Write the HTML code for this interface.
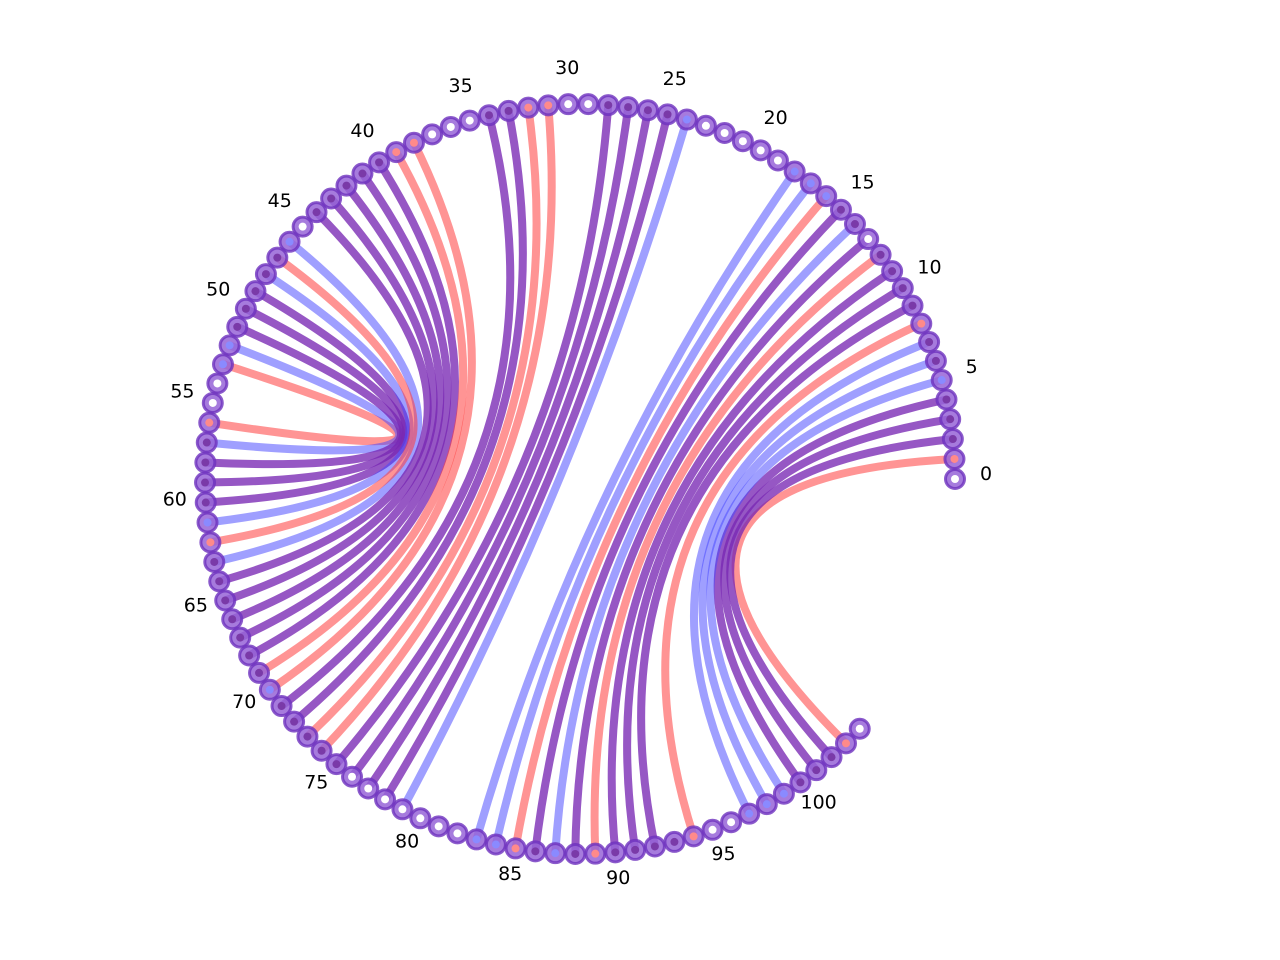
<!DOCTYPE html>
<html><head><meta charset="utf-8"><style>
html,body{margin:0;padding:0;background:#fff;}
svg{display:block;}
text{font-family:"DejaVu Sans","Liberation Sans",sans-serif;font-size:19px;fill:#000;}
</style></head><body>
<svg id="chart" width="1280" height="960" viewBox="0 0 1280 960" xmlns="http://www.w3.org/2000/svg">
<g id="edges"></g>
<g id="nodes"></g>
<g id="labels"></g>
</svg>
<script>
const nodeCount = 105;
const edgeSources = [1,2,3,4,5,6,7,8,9,10,11,12,13,14,15,16,17,18, 46,44,43,42,41,40,39,38,34,33,32,31,28,27,26,25,24, 53,52,51,50,49,48,47];
const edgeTargets = [103,102,101,100,99,98,97,94,92,91,90,89,88,87,86,85,84,83, 63,64,65,66,67,68,69,70,71,72,73,74,75,76,77,78,79, 56,57,58,59,60,61,62];
const edgeKinds = ['r','p','p','p','b','b','b','r','p','p','p','r','p','b','p','r','b','b', 'b','p','p','p','p','p','r','r','p','p','r','r','p','p','p','p','b', 'r','b','p','p','p','b','r'];
const nodeKinds = {1:'r',2:'p',3:'p',4:'p',5:'b',6:'p',7:'p',8:'r',9:'p',10:'p',11:'p',12:'p',14:'p',15:'p',16:'b',17:'b',18:'b',24:'b',25:'p',26:'p',27:'p',28:'p',31:'r',32:'r',33:'p',34:'p',38:'r',39:'r',40:'p',41:'p',42:'p',43:'p',44:'p',46:'b',47:'p',48:'p',49:'p',50:'p',51:'p',52:'b',53:'b',56:'r',57:'p',58:'p',59:'p',60:'p',61:'b',62:'r',63:'p',64:'p',65:'p',66:'p',67:'p',68:'p',69:'p',70:'b',71:'p',72:'p',73:'p',74:'p',75:'p',83:'b',84:'b',85:'r',86:'p',87:'b',88:'p',89:'r',90:'p',91:'p',92:'p',93:'p',94:'r',97:'b',98:'b',99:'b',100:'p',101:'p',102:'p',103:'r'};
const tickLabels = [0,5,10,15,20,25,30,35,40,45,50,55,60,65,70,75,80,85,90,95,100];

const cx = 580, cy = 479, R = 375, step = 3.06;
function ang(i){ return i*step*Math.PI/180; }
function px(i, r){ return cx + (r||R)*Math.cos(ang(i)); }
function py(i, r){ return cy - (r||R)*Math.sin(ang(i)); }
const edgeCol = {r:'rgba(255,60,60,0.55)', b:'rgba(70,70,255,0.52)', p:'rgba(120,40,180,0.78)'};
const dotCol = {r:'#ff8a8a', b:'#8a8aff', p:'#7a3aa8'};
const NS = 'http://www.w3.org/2000/svg';

const eg = document.getElementById('edges');
for (let k = 0; k < edgeSources.length; k++) {
  const a = edgeSources[k], b = edgeTargets[k];
  const p = document.createElementNS(NS, 'path');
  p.setAttribute('d', `M${px(a)},${py(a)} Q${cx},${cy} ${px(b)},${py(b)}`);
  p.setAttribute('fill', 'none');
  p.setAttribute('stroke', edgeCol[edgeKinds[k]]);
  p.setAttribute('stroke-width', '8');
  
  
  eg.appendChild(p);
}
const ng = document.getElementById('nodes');
for (let i = 0; i < nodeCount; i++) {
  const c = document.createElementNS(NS, 'circle');
  c.setAttribute('cx', px(i)); c.setAttribute('cy', py(i)); c.setAttribute('r', '9.5');
  c.setAttribute('fill', 'rgba(150,100,215,0.85)');
  c.setAttribute('stroke', 'rgba(110,50,190,0.8)');
  c.setAttribute('stroke-width', '3');
  
  
  ng.appendChild(c);
  const d = document.createElementNS(NS, 'circle');
  d.setAttribute('cx', px(i)); d.setAttribute('cy', py(i)); d.setAttribute('r', '4');
  d.setAttribute('fill', nodeKinds[i] ? dotCol[nodeKinds[i]] : '#ffffff');
  
  
  ng.appendChild(d);
}
const lg = document.getElementById('labels');
for (const t of tickLabels) {
  const tx = document.createElementNS(NS, 'text');
  tx.setAttribute('x', px(t, R+31)); tx.setAttribute('y', py(t, R+31) + 1);
  tx.setAttribute('text-anchor', 'middle');
  tx.textContent = t;
  
  
  lg.appendChild(tx);
}
</script>
</body></html>
